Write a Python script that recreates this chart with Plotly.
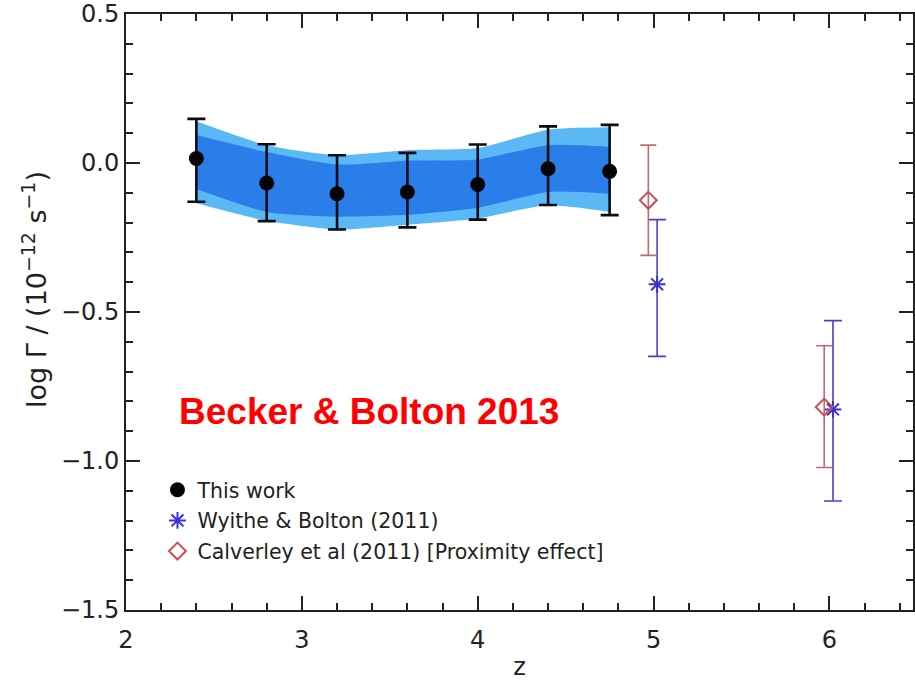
import plotly.graph_objects as go

# Photoionisation rate measurements, log Gamma in units of 1e-12 s^-1
z_this = [2.4, 2.8, 3.2, 3.6, 4.0, 4.4, 4.75]
g_this = [0.015, -0.067, -0.103, -0.097, -0.072, -0.019, -0.028]
g_this_hi = [0.148, 0.063, 0.026, 0.034, 0.062, 0.123, 0.128]
g_this_lo = [-0.130, -0.195, -0.223, -0.216, -0.190, -0.141, -0.175]

# Confidence bands around this work
band_outer_hi = [0.140, 0.060, 0.027, 0.043, 0.050, 0.112, 0.120]
band_outer_lo = [-0.135, -0.194, -0.223, -0.207, -0.186, -0.142, -0.164]
band_inner_hi = [0.094, 0.037, -0.005, 0.008, 0.012, 0.060, 0.054]
band_inner_lo = [-0.087, -0.164, -0.180, -0.174, -0.150, -0.097, -0.103]

z_wb = [5.02, 6.02]
g_wb = [-0.407, -0.827]
g_wb_hi = [-0.190, -0.529]
g_wb_lo = [-0.649, -1.134]

z_cal = [4.97, 5.97]
g_cal = [-0.125, -0.819]
g_cal_hi = [0.060, -0.613]
g_cal_lo = [-0.310, -1.022]

x_ticks = [2, 3, 4, 5, 6]
y_ticks = [-1.5, -1.0, -0.5, 0.0, 0.5]
y_tick_text = ["\u22121.5", "\u22121.0", "\u22120.5", "0.0", "0.5"]

FONT = "DejaVu Sans, Liberation Sans, Arial, sans-serif"
BOLD_FONT = "Liberation Sans, Arial, Helvetica, sans-serif"
INK = "#222222"


def plus(hi, mid):
    return [h - m for h, m in zip(hi, mid)]


def minus(mid, lo):
    return [m - l for m, l in zip(mid, lo)]


fig = go.Figure()

# outer (light) band
fig.add_trace(go.Scatter(x=z_this, y=band_outer_lo, mode="lines",
                         line=dict(width=0, shape="spline", smoothing=0.6),
                         showlegend=False, hoverinfo="skip"))
fig.add_trace(go.Scatter(x=z_this, y=band_outer_hi, mode="lines",
                         line=dict(width=0, shape="spline", smoothing=0.6),
                         fill="tonexty", fillcolor="#5ab9f5",
                         showlegend=False, hoverinfo="skip"))
# inner (dark) band
fig.add_trace(go.Scatter(x=z_this, y=band_inner_lo, mode="lines",
                         line=dict(width=0, shape="spline", smoothing=0.6),
                         showlegend=False, hoverinfo="skip"))
fig.add_trace(go.Scatter(x=z_this, y=band_inner_hi, mode="lines",
                         line=dict(width=0, shape="spline", smoothing=0.6),
                         fill="tonexty", fillcolor="#2b7de9",
                         showlegend=False, hoverinfo="skip"))

fig.add_trace(go.Scatter(
    x=z_this, y=g_this, mode="markers", name="This work", legendgroup="a",
    marker=dict(symbol="circle", size=15, color="#050505"),
    error_y=dict(type="data", symmetric=False,
                 array=plus(g_this_hi, g_this), arrayminus=minus(g_this, g_this_lo),
                 color="#0b0b14", thickness=2.6, width=9),
))

fig.add_trace(go.Scatter(
    x=z_wb, y=g_wb, mode="markers", name="Wyithe & Bolton (2011)", legendgroup="b",
    marker=dict(symbol="asterisk-open", size=14, color="#3b2fd6",
                line=dict(color="#3b2fd6", width=2)),
    error_y=dict(type="data", symmetric=False,
                 array=plus(g_wb_hi, g_wb), arrayminus=minus(g_wb, g_wb_lo),
                 color="#4a40c8", thickness=1.6, width=9),
))

fig.add_trace(go.Scatter(
    x=z_cal, y=g_cal, mode="markers", name="Calverley et al (2011) [Proximity effect]",
    legendgroup="c",
    marker=dict(symbol="diamond-open", size=13, color="#c8505a",
                line=dict(color="#c8505a", width=2)),
    error_y=dict(type="data", symmetric=False,
                 array=plus(g_cal_hi, g_cal), arrayminus=minus(g_cal, g_cal_lo),
                 color="#c46a6a", thickness=1.6, width=8),
))

fig.add_annotation(x=2.289, y=-0.833, xref="x", yref="y", xanchor="left", yanchor="middle",
                   text="<b>Becker & Bolton 2013</b>", showarrow=False,
                   font=dict(family=BOLD_FONT, size=37, color="#ff0000"))

# y-axis title, placed as a rotated annotation left of the tick labels
fig.add_annotation(x=0, y=0.537, xref="paper", yref="paper", xshift=-91,
                   xanchor="center", yanchor="middle", textangle=-90, showarrow=False,
                   text="log \u0393 / (10<sup>\u221212</sup> s<sup>\u22121</sup>)",
                   font=dict(family=FONT, size=27, color=INK))

axis_common = dict(
    showline=True, linecolor=INK, linewidth=2, mirror="allticks",
    ticks="inside", ticklen=14, tickwidth=2, tickcolor=INK,
    showgrid=False, zeroline=False, ticklabeloverflow="allow",
    tickfont=dict(family=FONT, size=24, color=INK),
)

fig.update_xaxes(
    range=[2, 6.475], tickvals=x_ticks, ticktext=[str(v) for v in x_ticks],
    minor=dict(dtick=0.2, ticks="inside", ticklen=7, tickwidth=2, tickcolor=INK),
    ticklabelstandoff=7,
    title=dict(text="z", font=dict(family=FONT, size=24, color=INK), standoff=5),
    **axis_common,
)
fig.update_yaxes(
    range=[-1.5, 0.5001], tickvals=y_ticks, ticktext=y_tick_text,
    minor=dict(dtick=0.1, ticks="inside", ticklen=7, tickwidth=2, tickcolor=INK),
    **axis_common,
)

fig.update_layout(
    width=915, height=684,
    margin=dict(l=126, r=0, t=12, b=74),
    plot_bgcolor="white", paper_bgcolor="white",
    showlegend=True,
    legend=dict(x=0.04, y=0.235, xanchor="left", yanchor="top",
                bgcolor="rgba(0,0,0,0)", borderwidth=0,
                font=dict(family=FONT, size=20.5, color=INK),
                traceorder="grouped", tracegroupgap=1, itemwidth=30),
)

fig.write_html("out.html")
